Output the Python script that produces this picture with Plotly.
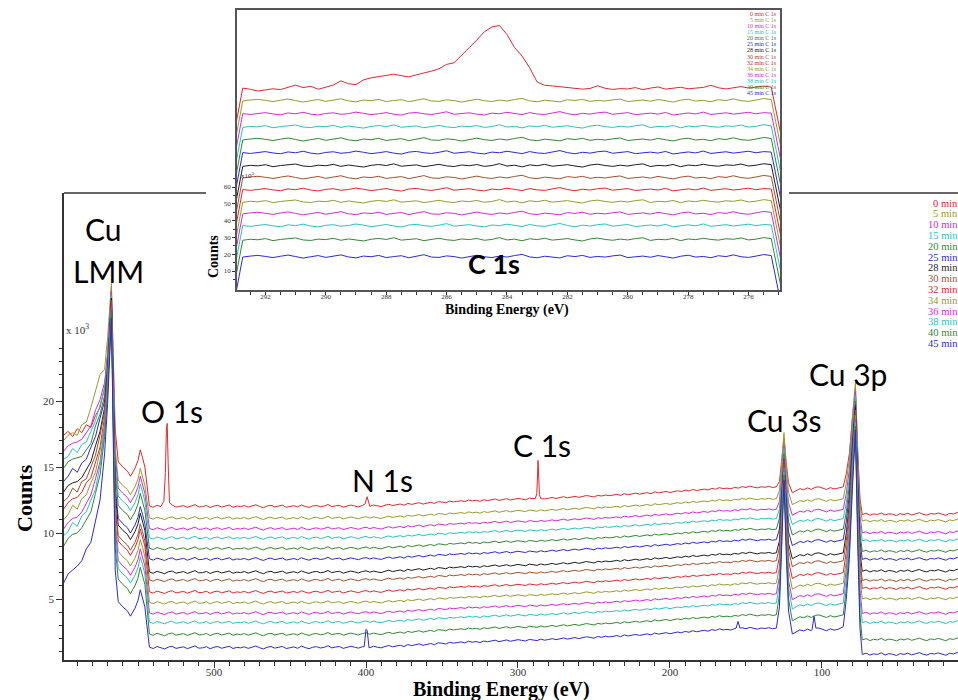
import numpy as np
import plotly.graph_objects as go

# ---------------------------------------------------------------- series
series = ["0 min", "5 min", "10 min", "15 min", "20 min", "25 min", "28 min",
          "30 min", "32 min", "34 min", "36 min", "38 min", "40 min", "45 min"]

RED, OLIVE, MAG, CYAN = "#e0282c", "#9a9a2e", "#d42ad4", "#2ac2c2"
GREEN, BLUE, BLACK, BROWN = "#2e8b2e", "#2a2ad8", "#1e1e1e", "#a0522d"
series_colors = [RED, OLIVE, MAG, CYAN, GREEN, BLUE, BLACK, BROWN,
                 RED, OLIVE, MAG, CYAN, GREEN, BLUE]

# ---------------------------------------------------------------- survey spectra (counts in 10^3)
# Cu LMM pre-edge, per series
pre_ev = [599, 596, 593, 590, 587, 584, 581, 578, 575, 572, 570]
pre_counts = [
    [17.4, 17.7, 17.3, 17.9, 17.6, 18.2, 18.0, 18.9, 19.5, 21.0, 23.5],
    [17.0, 17.4, 17.6, 17.4, 18.2, 18.4, 19.5, 20.7, 22.0, 22.4, 24.8],
    [16.2, 16.6, 16.8, 16.9, 17.1, 17.6, 18.1, 19.3, 20.1, 21.4, 23.6],
    [15.6, 15.8, 16.4, 16.1, 16.7, 16.9, 17.7, 18.5, 19.7, 20.9, 23.2],
    [14.9, 15.4, 15.6, 15.7, 15.8, 16.3, 16.8, 18.1, 19.0, 20.4, 22.8],
    [13.9, 14.3, 14.9, 14.6, 15.3, 15.6, 16.5, 17.3, 18.7, 20.0, 22.5],
    [13.1, 13.6, 13.8, 13.9, 14.2, 14.8, 15.4, 16.6, 17.7, 19.5, 22.2],
    [12.4, 12.7, 13.4, 13.1, 13.9, 14.1, 15.0, 15.9, 17.4, 19.2, 22.0],
    [11.8, 12.3, 12.6, 12.7, 13.1, 13.8, 14.2, 15.3, 16.5, 18.8, 21.8],
    [11.0, 11.4, 12.1, 11.8, 12.6, 12.9, 13.8, 14.6, 16.2, 18.3, 21.4],
    [10.3, 10.8, 11.1, 11.2, 11.6, 12.3, 12.9, 14.1, 15.4, 18.0, 21.2],
    [9.8, 10.1, 10.8, 10.5, 11.3, 11.6, 12.5, 13.3, 15.1, 17.7, 21.0],
    [9.0, 9.6, 9.9, 10.0, 10.4, 11.0, 11.6, 13.0, 14.4, 17.3, 20.6],
    [6.2, 6.9, 7.2, 7.5, 7.9, 8.8, 9.3, 10.9, 12.5, 16.0, 19.8],
]
lmm_ev = 567.5
lmm_top = [28.6, 28.9, 28.3, 28.0, 27.8, 27.5, 27.8, 27.3, 27.6, 27.0, 27.2, 26.8, 26.9, 26.3]

# region between Cu LMM and the 545 eV step
post_ev = [565, 563, 560, 557, 555, 552, 550, 548.5, 547, 545.5]
post_shape = [3.0, 0.6, 0.2, -0.1, -0.5, 0.1, 0.7, 1.5, 0.9, 0.2]
post_level = [14.8, 13.4, 12.8, 12.2, 11.5, 10.5, 10.0, 9.2, 8.8, 8.0, 7.3, 6.7, 5.9, 4.2]

# broad background 542.5 -> 130 eV
mid_ev = np.arange(542.5, 129.9, -2.5)
mid_shape = [
    0.05, -0.05, 0.1, 0.0, -0.08, 0.06, 0.12, -0.04, 0.02, 0.08,
    -0.06, 0.04, 0.15, -0.02, 0.0, 0.09, -0.07, 0.05,
    0.1, -0.03, 0.02, 0.12, -0.05, 0.04, 0.0, 0.08,
    -0.04, 0.06, 0.14, 0.01, -0.08, 0.05, 0.1, -0.02,
    0.03, 0.11, -0.05, 0.0, 0.07, -0.03, 0.13, 0.02,
    -0.06, 0.05, 0.09, -0.01, 0.04, 0.16, 0.0, 0.06,
    0.1, -0.04, 0.03, 0.12, 0.05, -0.02, 0.08, 0.14,
    0.03, 0.12, 0.05, 0.0, 0.1, 0.18, 0.08, 0.14,
    0.2, 0.1, 0.25, 0.17, 0.22, 0.3, 0.19, 0.27,
    0.33, 0.24, 0.38, 0.35, 0.29, 0.42, 0.36, 0.4,
    0.45, 0.38, 0.5, 0.43, 0.48, 0.4, 0.52, 0.46,
    0.5, 0.58, 0.47, 0.55, 0.6, 0.5, 0.54, 0.62,
    0.57, 0.52, 0.64, 0.6, 0.55, 0.66, 0.58, 0.63,
    0.7, 0.62, 0.68, 0.75, 0.66, 0.72, 0.78, 0.7,
    0.76, 0.84, 0.79, 0.73, 0.86, 0.8, 0.88, 0.83,
    0.87, 0.93, 0.85, 0.98, 0.9, 0.95, 1.02, 0.94,
    1.0, 1.06, 0.98, 1.12, 1.04, 1.08, 1.15, 1.07,
    1.12, 1.2, 1.14, 1.25, 1.18, 1.3, 1.22, 1.28,
    1.33, 1.26, 1.38, 1.32, 1.44, 1.36, 1.4, 1.35,
    1.46, 1.4, 1.52, 1.45, 1.55, 1.48, 1.42, 1.5,
    1.47, 1.53, 1.45, 1.5,
]
mid_level = [12.0, 11.1, 10.3, 9.6, 8.8, 8.0, 7.0, 6.4, 5.5, 4.7, 3.9, 3.2, 2.3, 1.3]

# Cu 3s
cu3s_ev = [128, 126.5, 125, 123.5, 122]
cu3s_counts = [
    [13.9, 15.5, 17.2, 15.3, 13.8],
    [13.2, 15.3, 17.6, 15.0, 13.1],
    [12.4, 14.4, 16.6, 14.1, 12.3],
    [11.8, 14.0, 16.4, 13.7, 11.6],
    [11.1, 13.4, 16.0, 13.1, 10.9],
    [10.3, 12.8, 15.6, 12.5, 10.1],
    [9.4, 12.2, 15.3, 11.8, 9.2],
    [8.9, 11.9, 15.2, 11.5, 8.7],
    [8.2, 11.6, 15.5, 11.2, 7.9],
    [7.4, 10.9, 14.9, 10.5, 7.2],
    [6.7, 10.5, 14.8, 10.1, 6.4],
    [6.1, 10.1, 14.6, 9.6, 5.8],
    [5.3, 9.6, 14.4, 9.1, 5.0],
    [4.4, 8.9, 14.0, 8.4, 4.1],
]

# between Cu 3s and Cu 3p
gap_ev = np.arange(119.5, 87.4, -2.5)
gap_shape = [1.05, 1.22, 1.36, 1.28, 1.42, 1.3, 1.46, 1.5, 1.37, 1.3, 1.44, 1.34, 1.4]

# Cu 3p
cu3p_ev = [86, 84, 82, 80, 78, 76.5, 75, 73.5]
cu3p_counts = [
    [13.5, 14.5, 16.0, 18.7, 21.0, 16.2, 12.6, 11.4],
    [12.6, 13.8, 15.6, 18.7, 21.4, 16.2, 12.2, 10.9],
    [11.8, 13.0, 14.8, 18.0, 20.7, 15.4, 11.3, 10.0],
    [11.1, 12.3, 14.2, 17.6, 20.4, 14.9, 10.7, 9.4],
    [10.3, 11.6, 13.6, 17.0, 20.0, 14.3, 10.0, 8.6],
    [9.5, 10.9, 12.9, 16.6, 19.7, 13.9, 9.4, 8.0],
    [8.5, 10.0, 12.2, 16.1, 19.5, 13.3, 8.6, 7.1],
    [7.9, 9.4, 11.8, 15.8, 19.3, 12.9, 7.9, 6.4],
    [7.0, 8.6, 11.1, 15.4, 19.1, 12.5, 7.4, 5.8],
    [6.2, 7.9, 10.5, 15.0, 18.9, 12.0, 6.7, 5.0],
    [5.4, 7.2, 9.9, 14.6, 18.6, 11.3, 5.7, 3.9],
    [4.7, 6.6, 9.4, 14.2, 18.4, 10.8, 5.0, 3.2],
    [3.8, 5.8, 8.7, 13.8, 18.1, 10.0, 3.8, 1.9],
    [2.9, 5.0, 8.0, 13.3, 17.8, 9.3, 2.8, 0.8],
]

# low binding-energy tail
tail_ev = np.arange(71, 8.4, -2.5)
tail_shape = [0.1, -0.05, 0.05, 0.0, 0.12, -0.04, 0.06, 0.02, -0.08, 0.07, 0.0, 0.1, -0.03,
              0.05, 0.14, 0.02, -0.05, 0.08, 0.03, 0.12, 0.0, -0.06, 0.09, 0.04, 0.15, 0.05]
tail_level = [11.4, 10.9, 10.0, 9.4, 8.6, 8.0, 7.1, 6.4, 5.8, 5.0, 3.9, 3.2, 1.9, 0.8]

# extra lines seen only in some spectra: (binding energy, counts)
extra_peaks = {
    0: [
        [(533.0, 12.4), (532.0, 14.6), (531.3, 17.9), (530.8, 18.3), (530.1, 15.0), (529.3, 12.3)],  # O 1s
        [(400.6, 12.2), (399.3, 12.75), (398.0, 12.15)],                                             # N 1s
        [(288.6, 12.6), (287.6, 13.0), (287.1, 14.6), (286.8, 15.5), (286.4, 14.4),
         (285.9, 12.9), (284.9, 12.6)],                                                              # C 1s
    ],
    13: [
        [(401.2, 1.4), (400.0, 2.7), (399.2, 2.6), (398.0, 1.3)],
        [(156.5, 2.8), (155.2, 3.3), (154.0, 2.8)],
        [(106.5, 2.7), (105.2, 3.7), (104.0, 2.8)],
    ],
}

# ---------------------------------------------------------------- C 1s high-resolution (counts in 10^3)
c1s_grid = np.arange(292.75, 275.2, -0.25)
c1s_ev = [293.35] + list(c1s_grid) + [274.6]
c1s_0min = [62.0,
    118.9, 118.2, 117.2, 117.8, 118.5, 118.0, 119.3, 120.7, 119.2, 120.0,
    118.2, 119.5, 120.7, 123.2, 121.5, 121.0, 123.8, 125.0, 125.8, 126.5,
    127.2, 126.3, 125.6, 126.8, 127.8, 129.0, 130.4, 133.0, 134.0, 138.8,
    143.0, 147.5, 152.4, 155.3, 156.2, 150.8, 143.0, 138.0, 131.0, 122.5,
    120.6, 120.2, 119.7, 119.3, 118.6, 118.3, 118.7, 120.3, 118.8, 118.1,
    118.6, 118.4, 119.2, 118.0, 118.9, 119.6, 118.3, 118.8, 119.4, 118.5,
    118.9, 119.3, 120.6, 119.1, 118.4, 119.0, 119.8, 118.9, 119.4, 120.1, 119.5,
    62.0]
c1s_level = [None, 111.2, 103.4, 95.7, 88.0, 80.2, 72.5, 65.4, 58.2, 51.1, 44.0, 36.8, 28.5, 18.3]
c1s_noise = [
    [-57,
     0.0, 0.6, 1.0, 0.4, -0.3, 0.5, 1.2, 0.3, -0.6, 0.2,
     0.9, -0.2, 0.4, 1.3, 0.1, -0.5, 0.6, 0.2, 1.0, -0.3,
     0.3, 0.8, -0.4, 0.5, 1.4, 0.0, -0.2, 0.7, 0.3, -0.6,
     0.4, 1.1, 0.2, -0.3, 0.6, 0.0, 0.9, 1.6, 0.1, -0.4,
     0.5, 0.2, -0.5, 0.8, 0.3, 1.0, -0.2, 0.4, 0.0, 0.7,
     1.2, -0.3, 0.3, 0.6, -0.1, 0.9, 0.2, -0.6, 0.5, 1.1,
     0.0, 0.4, -0.4, 0.8, 0.3, 1.3, 0.2, -0.2, 0.6, 1.5, 0.9,
     -57],
    [-57,
     0.3, -0.2, 0.5, 0.9, 0.1, -0.4, 0.7, 0.2, 1.1, 0.0,
     -0.5, 0.4, 0.8, -0.1, 0.3, 1.2, 0.5, -0.3, 0.2, 0.9,
     0.0, -0.6, 0.6, 1.0, 0.2, -0.2, 0.5, 1.4, -0.1, 0.3,
     0.8, 0.0, -0.5, 0.6, 0.2, 1.1, 0.4, -0.3, 0.9, 0.1,
     -0.2, 0.7, 1.5, 0.3, -0.4, 0.5, 0.0, 0.8, 1.2, -0.1,
     0.4, 0.9, -0.3, 0.2, 0.6, 0.0, 1.0, -0.5, 0.3, 0.7,
     0.1, 1.2, -0.2, 0.4, 0.8, 0.0, 0.5, 1.1, 0.2, 0.9, 0.6,
     -57],
    [-57,
     -0.2, 0.4, 0.1, 0.8, -0.4, 0.3, 0.6, 1.2, 0.0, -0.3,
     0.5, 0.2, 1.0, -0.2, 0.6, 0.0, -0.6, 0.4, 0.9, 0.3,
     1.3, -0.1, 0.2, 0.7, -0.4, 0.5, 1.0, 0.1, -0.3, 0.6,
     0.2, 0.9, -0.2, 0.3, 1.4, 0.0, 0.5, -0.5, 0.7, 0.2,
     1.0, -0.1, 0.4, 0.8, 0.0, -0.6, 0.6, 1.1, 0.3, -0.2,
     0.5, 0.0, 0.8, 1.3, -0.3, 0.4, 0.1, 0.9, -0.4, 0.6,
     0.2, 1.0, 0.3, -0.1, 0.7, 0.4, 1.2, 0.0, 0.5, 1.4, 0.8,
     -57],
]

main_ticks = [100, 200, 300, 400, 500]
main_yticks = [5, 10, 15, 20]
inset_ticks = [276, 278, 280, 282, 284, 286, 288, 290, 292]
inset_yticks = [10, 20, 30, 40, 50, 60]

assert len(mid_shape) == len(mid_ev)
assert len(gap_shape) == len(gap_ev)
assert len(tail_shape) == len(tail_ev)
assert len(c1s_0min) == len(c1s_ev)
assert all(len(r) == len(c1s_ev) for r in c1s_noise)


def survey(i):
    ev = list(pre_ev) + [lmm_ev] + list(post_ev) + list(mid_ev) + list(cu3s_ev) \
        + list(gap_ev) + list(cu3p_ev) + list(tail_ev)
    y = list(pre_counts[i]) + [lmm_top[i]] \
        + [post_level[i] + s for s in post_shape] \
        + [mid_level[i] + s for s in mid_shape] \
        + list(cu3s_counts[i]) \
        + [mid_level[i] + s for s in gap_shape] \
        + list(cu3p_counts[i]) \
        + [tail_level[i] + s for s in tail_shape]
    pts = list(zip(ev, y))
    for peak in extra_peaks.get(i, []):
        lo = min(e for e, _ in peak)
        hi = max(e for e, _ in peak)
        pts = [(e, v) for e, v in pts if not (lo <= e <= hi)] + peak
    pts.sort(key=lambda p: -p[0])
    return [p[0] for p in pts], [p[1] for p in pts]


def c1s(i):
    if i == 0:
        return c1s_ev, c1s_0min
    row = c1s_noise[(i - 1) % 3]
    return c1s_ev, [c1s_level[i] + d for d in row]


# ---------------------------------------------------------------- figure geometry
W, H = 958, 700
ML, MR, MT, MB = 64, 0, 10, 40
PW, PH = W - ML - MR, H - MT - MB


def px(x):
    return (x - ML) / PW


def py(y):
    return (H - MB - y) / PH


SERIF = "Liberation Serif, Times New Roman, serif"
SANS = "Lato, Carlito, Calibri, sans-serif"

fig = go.Figure()

for i in range(len(series)):
    xs, ys = survey(i)
    fig.add_trace(go.Scatter(x=xs, y=ys, mode="lines", name=series[i],
                             line=dict(color=series_colors[i], width=1),
                             xaxis="x", yaxis="y", showlegend=False, hoverinfo="skip"))

for i in range(len(series)):
    xs, ys = c1s(i)
    fig.add_trace(go.Scatter(x=xs, y=ys, mode="lines", name=series[i] + " C 1s",
                             line=dict(color=series_colors[i], width=1),
                             xaxis="x2", yaxis="y2", showlegend=False, hoverinfo="skip"))

axis_font = dict(family=SERIF, size=11, color="#333333")
inset_font = dict(family=SERIF, size=7, color="#333333")

fig.update_layout(
    width=W, height=H,
    margin=dict(l=ML, r=MR, t=MT, b=MB, pad=0),
    paper_bgcolor="white", plot_bgcolor="white",
    xaxis=dict(domain=[0, 1], anchor="y", range=[598.7, 10.5],
               showline=True, linecolor="#333333", linewidth=1.5,
               ticks="outside", tickvals=main_ticks, ticklen=6, tickwidth=1, tickcolor="#333333",
               tickfont=axis_font, ticklabelstandoff=-5, showgrid=False, zeroline=False,
               minor=dict(tickvals=list(range(20, 600, 10)), ticks="outside", ticklen=4,
                          tickcolor="#333333", tickwidth=1, showgrid=False)),
    yaxis=dict(domain=[0, py(193)], anchor="x", range=[0.38, 35.76],
               showline=True, linecolor="#333333", linewidth=1.5,
               ticks="outside", tickvals=main_yticks, ticklen=6, tickwidth=1, tickcolor="#333333",
               tickfont=axis_font, showgrid=False, zeroline=False,
               minor=dict(tickvals=list(range(1, 25)), ticks="outside", ticklen=3,
                          tickcolor="#333333", tickwidth=1, showgrid=False)),
    xaxis2=dict(domain=[px(237), px(780)], anchor="y2", range=[292.94, 274.96],
                showline=True, mirror=True, linecolor="#555555", linewidth=1.5,
                ticks="outside", tickvals=inset_ticks, ticklen=3, tickwidth=1, tickcolor="#333333",
                tickfont=inset_font, ticklabelstandoff=-4, showgrid=False, zeroline=False,
                minor=dict(tickvals=[275 + 0.5 * k for k in range(36)], ticks="outside", ticklen=3,
                           tickcolor="#333333", tickwidth=1, showgrid=False)),
    yaxis2=dict(domain=[py(290), 1], anchor="x2", range=[-1.3, 165.4],
                showline=True, mirror=True, linecolor="#555555", linewidth=1.5,
                ticks="outside", tickvals=inset_yticks, ticklen=3, tickwidth=1, tickcolor="#333333",
                tickfont=inset_font, showgrid=False, zeroline=False,
                minor=dict(tickvals=[5 + 5 * k for k in range(13)], ticks="outside", ticklen=2,
                           tickcolor="#333333", tickwidth=1, showgrid=False)),
)

# top frame of the survey plot, interrupted where the C 1s panel sits
for x0, x1 in [(ML, 206), (789, W)]:
    fig.add_shape(type="line", xref="paper", yref="paper",
                  x0=px(x0), x1=px(x1), y0=py(193), y1=py(193),
                  line=dict(color="#333333", width=1.5))

annotations = []


def note(text, x, y, size, family=SANS, color="black", xanchor="center", yanchor="middle",
         angle=0, bold=False):
    if bold:
        text = "<b>" + text + "</b>"
    annotations.append(dict(text=text, x=px(x), y=py(y), xref="paper", yref="paper",
                            xanchor=xanchor, yanchor=yanchor, showarrow=False, textangle=angle,
                            borderpad=0,
                            font=dict(family=family, size=size, color=color)))


# peak labels
note("Cu", 103, 229, 30)
note("LMM", 108, 271, 30)
note("O 1s", 172, 411, 30)
note("N 1s", 382, 480, 30)
note("C 1s", 542, 445, 30)
note("Cu 3s", 784, 420, 30)
note("Cu 3p", 848, 374, 30)
note("C 1s", 494, 263, 27, bold=True)

# axis titles
note("Counts", 24, 498, 22, family=SERIF, angle=-90, bold=True)
note("Binding Energy (eV)", 501, 689, 20, family=SERIF, bold=True)
note("Counts", 213, 257, 14, family=SERIF, angle=-90, bold=True)
note("Binding Energy (eV)", 507, 310, 14, family=SERIF, bold=True)
note("x 10<sup>3</sup>", 65, 329, 11, family=SERIF, color="#333333", xanchor="left")
note("x10<sup>3</sup>", 240, 175, 7, family=SERIF, color="#333333", xanchor="left")

# series keys
for i, name in enumerate(series):
    note(name, 959, 203 + 10.8 * i, 10.5, family=SERIF, color=series_colors[i], xanchor="right")
    note(name + " C 1s", 778, 13.5 + 6.15 * i, 6, family=SERIF, color=series_colors[i],
         xanchor="right")

fig.update_layout(annotations=annotations)

fig.write_html("out.html")
